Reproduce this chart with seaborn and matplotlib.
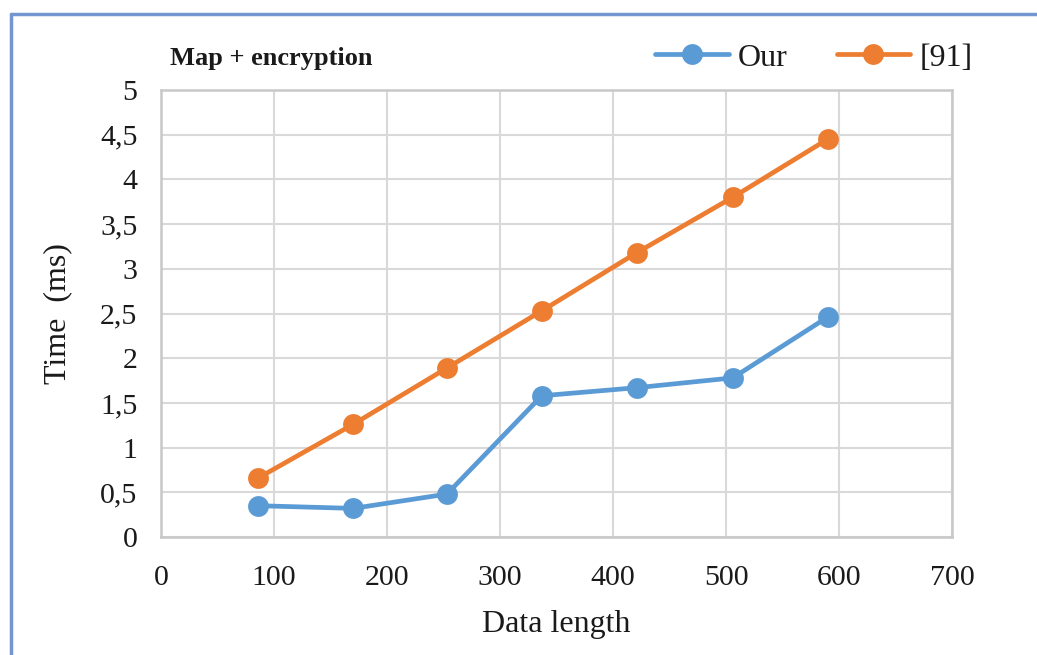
import matplotlib
matplotlib.use("Agg")
import matplotlib.pyplot as plt
from matplotlib.lines import Line2D
import seaborn as sns
import pandas as pd

# Timing measurements (ms) for map + encryption
data_length = [86, 170, 253, 337, 421, 506, 590]
time_our = [0.35, 0.32, 0.48, 1.58, 1.67, 1.78, 2.46]
time_ref91 = [0.66, 1.26, 1.89, 2.53, 3.18, 3.80, 4.45]
series_names = ["Our", "[91]"]
series_colors = ["#5B9BD5", "#ED7D31"]
x_ticks = [0, 100, 200, 300, 400, 500, 600, 700]
y_ticks = [0, 0.5, 1, 1.5, 2, 2.5, 3, 3.5, 4, 4.5, 5]

df = pd.DataFrame({
    "Data length": data_length * 2,
    "Time": time_our + time_ref91,
    "Series": [series_names[0]] * len(data_length) + [series_names[1]] * len(data_length),
})

sns.set_style("white")
plt.rcParams["font.family"] = ["Liberation Serif", "DejaVu Serif"]

W, H = 1037, 655
fig = plt.figure(figsize=(W / 100, H / 100), dpi=100)
ax = fig.add_axes([161 / W, (H - 537) / H, 791 / W, 447 / H])

sns.lineplot(data=df, x="Data length", y="Time", hue="Series",
             palette=dict(zip(series_names, series_colors)),
             marker="o", markersize=15, linewidth=3.4, markeredgewidth=0,
             ax=ax, legend=False, zorder=3)

ax.set_xlim(0, 700)
ax.set_ylim(0, 5)
ax.set_xticks(x_ticks)
ax.set_yticks(y_ticks)
ax.set_yticklabels([f"{v:g}".replace(".", ",") for v in y_ticks])
ax.tick_params(axis="both", labelsize=21.5, length=0, colors="#1a1a1a")
ax.tick_params(axis="x", pad=20)
ax.tick_params(axis="y", pad=17)
ax.grid(True, color="#D9D9D9", linewidth=1.5)
for s in ax.spines.values():
    s.set_visible(True)
    s.set_color("#C8C8C8")
    s.set_linewidth(1.8)

ax.set_xlabel("Data length", fontsize=23, color="#1a1a1a", labelpad=14)
ax.set_ylabel("Time  (ms)", fontsize=23, color="#1a1a1a", labelpad=20)

fig.text(170 / W, 1 - 58 / H, "Map + encryption", fontsize=19, fontweight="bold",
         color="#1a1a1a", va="center", ha="left")

handles = [Line2D([0], [0], color=c, linewidth=3.4, marker="o", markersize=15,
                  markeredgewidth=0) for c in series_colors]
fig.legend(handles, series_names, loc="center right", bbox_to_anchor=(1001 / W, 1 - 58 / H),
           ncol=2, frameon=False, fontsize=23, handlelength=2.3, columnspacing=1.55,
           handletextpad=0.28, labelcolor="#1a1a1a")

# frame edges along the top and left of the figure
border = "#7396D0"
fig.add_artist(Line2D([11 / W, 1], [1 - 14 / H, 1 - 14 / H], color=border, linewidth=2.5))
fig.add_artist(Line2D([11 / W, 11 / W], [0, 1 - 14 / H], color=border, linewidth=2.5))

fig.savefig("out.png", dpi=100)
